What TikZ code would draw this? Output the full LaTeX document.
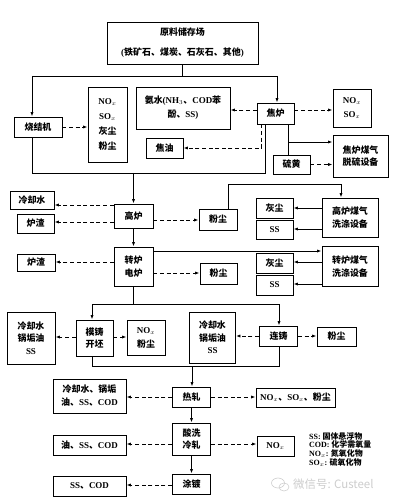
\documentclass[tikz,border=0pt]{standalone}
\usepackage{fontspec}
\setmainfont{Noto Sans CJK SC}
\newfontfamily\lat{Liberation Serif}
\usetikzlibrary{arrows.meta,calc}
\newcommand{\fs}[2]{\fontsize{#1}{#2}\selectfont}
\newcommand{\en}[1]{{\lat\bfseries #1}}
\newcommand{\nox}{\en{NO}$_x$}
\newcommand{\sox}{\en{SO}$_x$}
\begin{document}
\begin{tikzpicture}[x=1bp,y=-1bp,
  box/.style={draw, line width=0.9bp, inner sep=0pt, align=center, font=\bfseries\fs{9}{12.5}},
  ln/.style={line width=0.9bp},
  arr/.style={ln, -{Latex[length=4.5bp,width=3.2bp]}},
  dsh/.style={arr, dash pattern=on 4bp off 2.6bp}]
\useasboundingbox (0,0) rectangle (404,504);

% nodes
\node[box, minimum width=151bp, minimum height=42bp, font=\bfseries\fs{9}{20}] (raw) at (182.5,43) {原料储存场\\\en{(}铁矿石、煤炭、石灰石、其他\en{)}};
\node[box, minimum width=48bp, minimum height=20bp] (sinter) at (38,127) {烧结机};
\node[box, minimum width=39bp, minimum height=75bp, font=\bfseries\fs{9}{15}] (snox) at (107.5,124.5) {\nox\\\sox\\灰尘\\粉尘};
\node[box, minimum width=94bp, minimum height=42bp, font=\bfseries\fs{9}{14}] (ammonia) at (183,108) {氨水\en{(NH}$_3$、\en{COD}苯\\酚、\en{SS)}};
\node[box, minimum width=37bp, minimum height=21bp] (coke) at (275.5,113.5) {焦炉};
\node[box, minimum width=38bp, minimum height=38bp, font=\bfseries\fs{9}{14}] (cnox) at (352,108) {\nox\\\sox};
\node[box, minimum width=37bp, minimum height=20bp] (tar) at (164.5,148) {焦油};
\node[box, minimum width=55bp, minimum height=42bp] (desulf) at (360.5,156) {焦炉煤气\\脱硫设备};
\node[box, minimum width=37bp, minimum height=19bp] (sulfur) at (291.5,164.5) {硫黄};

\node[box, minimum width=39bp, minimum height=24bp] (bf) at (133.5,216) {高炉};
\node[box, minimum width=44bp, minimum height=18bp] (cw) at (32,200) {冷却水};
\node[box, minimum width=37bp, minimum height=19bp] (slag1) at (35.5,223.5) {炉渣};
\node[box, minimum width=38bp, minimum height=21bp] (dust1) at (218,219.5) {粉尘};
\node[box, minimum width=56bp, minimum height=39bp] (bfwash) at (350,217.5) {高炉煤气\\洗涤设备};
\node[box, minimum width=37bp, minimum height=20bp] (ash1) at (274.5,208) {灰尘};
\node[box, minimum width=37bp, minimum height=19bp] (ss1) at (274.5,229.5) {\en{SS}};

\node[box, minimum width=39bp, minimum height=39bp] (bof) at (133.5,266.5) {转炉\\电炉};
\node[box, minimum width=38bp, minimum height=17bp] (slag2) at (36,262.5) {炉渣};
\node[box, minimum width=37bp, minimum height=21bp] (dust2) at (218.5,273.5) {粉尘};
\node[box, minimum width=56bp, minimum height=40bp] (bofwash) at (350,266.5) {转炉煤气\\洗涤设备};
\node[box, minimum width=37bp, minimum height=20bp] (ash2) at (274.5,263) {灰尘};
\node[box, minimum width=37bp, minimum height=20bp] (ss2) at (274.5,285) {\en{SS}};

\node[box, minimum width=48bp, minimum height=52bp] (cwl) at (31,338) {冷却水\\锅垢油\\\en{SS}};
\node[box, minimum width=37bp, minimum height=36bp] (ingot) at (94.5,338) {模铸\\开坯};
\node[box, minimum width=38bp, minimum height=35bp, font=\bfseries\fs{9}{14}] (no2) at (146,337.5) {\nox\\粉尘};
\node[box, minimum width=46bp, minimum height=51bp] (cwm) at (212.5,337.5) {冷却水\\锅垢油\\\en{SS}};
\node[box, minimum width=38bp, minimum height=20bp] (cc) at (278.5,336) {连铸};
\node[box, minimum width=39bp, minimum height=19bp] (dust3) at (336.5,336.5) {粉尘};

\node[box, minimum width=38bp, minimum height=20bp] (hr) at (191.5,397) {热轧};
\node[box, minimum width=73bp, minimum height=34bp, font=\bfseries\fs{9}{13}] (hrw) at (89.5,396) {冷却水、锅垢\\油、\en{SS}、\en{COD}};
\node[box, minimum width=79bp, minimum height=19bp] (hrg) at (295.5,397.5) {\nox、\sox、粉尘};
\node[box, minimum width=38bp, minimum height=32bp] (cr) at (191.5,439) {酸洗\\冷轧};
\node[box, minimum width=73bp, minimum height=20bp] (crw) at (89.5,445) {油、\en{SS}、\en{COD}};
\node[box, minimum width=37bp, minimum height=20bp] (crg) at (275.5,446) {\nox};
\node[box, minimum width=38bp, minimum height=20bp] (coat) at (191.5,484) {涂镀};
\node[box, minimum width=73bp, minimum height=20bp] (coatw) at (89.5,486) {\en{SS}、\en{COD}};

\node[anchor=north west, align=left, inner sep=0pt, font=\bfseries\fs{8}{8.8}] (legend) at (309,432)
  {\en{SS:} 固体悬浮物\\\en{COD:} 化学需氧量\\\nox\en{:} 氮氧化物\\\sox\en{:} 硫氧化物};

% watermark
\node[anchor=west, inner sep=0pt, text=gray!40, font=\fs{11.5}{12}] (wm) at (293,484.5) {微信号: Custeel};
\draw[gray!40, line width=0.6bp] (278,483) ellipse (6.5 and 5);
\draw[gray!40, line width=0.6bp] (284,487) ellipse (5 and 4);

% junction coordinates
\coordinate (j0) at (182.5,76);
\coordinate (jl) at (32,76);
\coordinate (jr) at (277,76);
\coordinate (m1) at (32,173);
\coordinate (m2) at (265,173);
\coordinate (m0) at (133.5,173);
\coordinate (k1) at (288,142);
\coordinate (p1) at (228,184);
\coordinate (p2) at (341,184);
\coordinate (q0) at (133.5,304);
\coordinate (ql) at (92,304);
\coordinate (qr) at (279,304);
\coordinate (r0) at (192,366);
\coordinate (rl) at (92,366);
\coordinate (rr) at (279,366);

% connectors
\draw[ln] (raw.south) -- (j0);
\draw[ln] (jl) -- (jr);
\draw[arr] (jl) -- (jl |- sinter.north);
\draw[arr] (jr) -- (jr |- coke.north);

\draw[dsh] (sinter.east) -- (snox.west |- sinter.east);
\draw[dsh] (coke.west |- 0,110) -- (ammonia.east |- 0,110);
\draw[dsh] (coke.east |- 0,110) -- (cnox.west |- 0,110);
\draw[dsh] ($(coke.south west)+(5,0)$) |- (tar.east);
\draw[ln] (jl |- sinter.south) -- (m1) -- (m2) -- (m2 |- coke.south);
\draw[arr] (m0) -- (bf.north);
\draw[ln] (k1 |- coke.south) -- (k1 |- sulfur.north);
\draw[arr] (k1) -- (desulf.west |- k1);
\draw[dsh] (sulfur.east) -- (desulf.west |- sulfur.east);

\draw[dsh] (bf.west |- 0,205) -- (cw.east |- 0,205);
\draw[dsh] (bf.west |- 0,222) -- (slag1.east |- 0,222);
\draw[dsh] (bf.east |- 0,220) -- (dust1.west |- 0,220);
\draw[arr] (p1 |- dust1.north) -- (p1) -- (p2) -- (p2 |- bfwash.north);
\draw[arr] (bfwash.west |- 0,208) -- (ash1.east |- 0,208);
\draw[arr] (bfwash.west |- 0,229) -- (ss1.east |- 0,229);
\draw[arr] (bf.south) -- (bof.north);

\draw[arr] (bof.east |- 0,251) -- (bofwash.west |- 0,251);
\draw[dsh] (bof.west |- 0,262) -- (slag2.east |- 0,262);
\draw[dsh] (bof.east |- 0,273) -- (dust2.west |- 0,273);
\draw[arr] (bofwash.west |- 0,262) -- (ash2.east |- 0,262);
\draw[arr] (bofwash.west |- 0,284) -- (ss2.east |- 0,284);

\draw[ln] (bof.south) -- (q0);
\draw[ln] (ql) -- (qr);
\draw[arr] (ql) -- (ql |- ingot.north);
\draw[arr] (qr) -- (qr |- cc.north);
\draw[dsh] (ingot.west |- 0,337) -- (cwl.east |- 0,337);
\draw[dsh] (ingot.east |- 0,337) -- (no2.west |- 0,337);
\draw[dsh] (cc.west) -- (cwm.east |- cc.west);
\draw[dsh] (cc.east) -- (dust3.west |- cc.east);
\draw[ln] (ql |- ingot.south) -- (rl) -- (rr) -- (rr |- cc.south);
\draw[arr] (r0) -- (r0 |- hr.north);

\draw[dsh] (hr.west) -- (hrw.east |- hr.west);
\draw[dsh] (hr.east) -- (hrg.west |- hr.east);
\draw[arr] (hr.south) -- (cr.north);
\draw[dsh] (cr.west |- 0,444) -- (crw.east |- 0,444);
\draw[dsh] (cr.east |- 0,444) -- (crg.west |- 0,444);
\draw[arr] (cr.south) -- (coat.north);
\draw[dsh] (coat.west |- 0,485) -- (coatw.east |- 0,485);
\end{tikzpicture}
\end{document}
